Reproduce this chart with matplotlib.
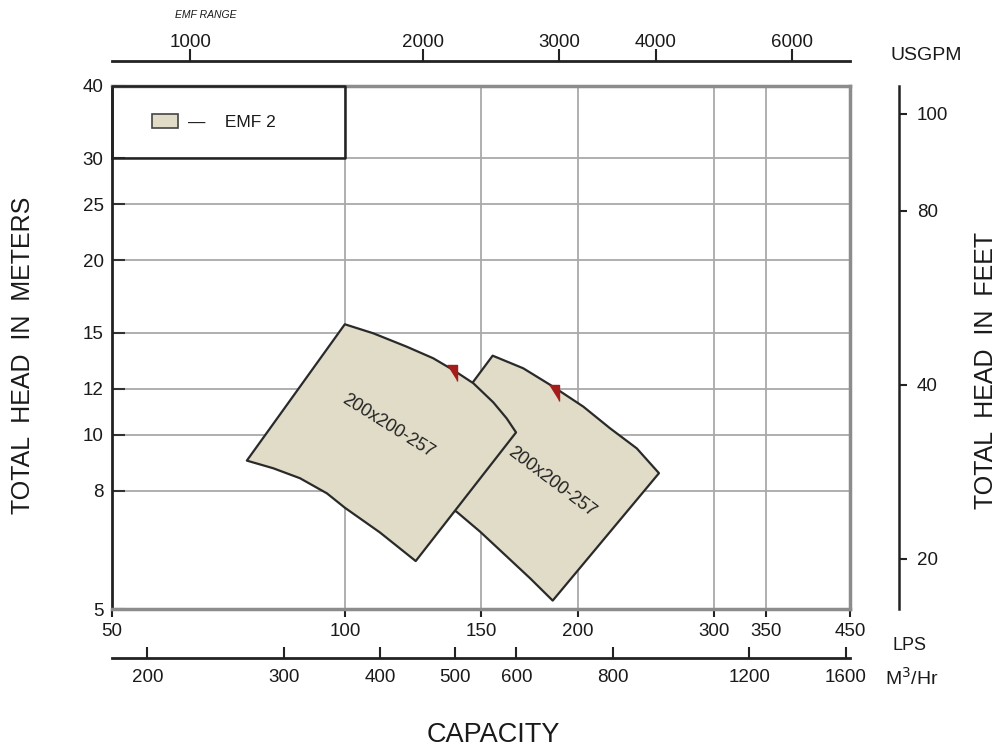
import numpy as np
import matplotlib
matplotlib.use("Agg")
import matplotlib.pyplot as plt
from matplotlib.patches import Patch
from matplotlib.ticker import NullLocator, FixedLocator, FixedFormatter

plt.rcParams['font.family'] = ['Liberation Sans', 'DejaVu Sans']

# axis scales
lps_ticks = [50, 100, 150, 200, 300, 350, 450]
gpm_ticks = [1000, 2000, 3000, 4000, 6000]
m3h_ticks = [200, 300, 400, 500, 600, 800, 1200, 1600]
head_m_ticks = [5, 8, 10, 12, 15, 20, 25, 30, 40]
# feet labels as printed on the chart (positions in meters)
feet_tick_pos_m = [6.1, 12.19, 24.38, 35.8]
feet_tick_labels = ['20', '40', '80', '100']

# pump ranges (LPS, meters)
region1_lps = [100.0, 108.9, 120.2, 130.1, 138.1, 146.6, 155.6, 161.9, 166.5,
               123.5, 111.0, 100.0, 94.8, 87.5, 80.8, 74.7]
region1_m = [15.51, 14.96, 14.19, 13.55, 12.93, 12.27, 11.37, 10.67, 10.09,
             6.05, 6.78, 7.48, 7.92, 8.41, 8.75, 9.02]
region2_lps = [155.3, 170.1, 186.0, 203.4, 220.2, 238.5, 254.8,
               185.7, 173.6, 160.3, 149.6, 139.5, 125.1, 117.9]
region2_m = [13.69, 13.02, 12.10, 11.18, 10.26, 9.47, 8.58,
             5.17, 5.65, 6.24, 6.80, 7.36, 7.93, 8.35]
region_names = ['200x200-257', '200x200-257']
label_lps = [113.7, 185.5]
label_m = [10.35, 8.28]
label_rot = [-32, -37]
bep_lps = [137.6, 186.4]
bep_m = [12.78, 11.8]

legend_box_lps = [50, 100]
legend_box_m = [30, 40]

fill_col = '#e1dcc8'
edge_col = '#2a2a2a'
txt_col = '#1a1a1a'
grid_col = '#a9a9a9'

fig = plt.figure(figsize=(10, 7.51), dpi=100)
ax = fig.add_axes([0.112, 142 / 751, 0.738, 523 / 751])
ax.set_xscale('log')
ax.set_yscale('log')
ax.set_xlim(50, 450)
ax.set_ylim(5, 40)

ax.xaxis.set_major_locator(FixedLocator(lps_ticks))
ax.xaxis.set_major_formatter(FixedFormatter([str(t) for t in lps_ticks]))
ax.yaxis.set_major_locator(FixedLocator(head_m_ticks))
ax.yaxis.set_major_formatter(FixedFormatter([str(t) for t in head_m_ticks]))
ax.xaxis.set_minor_locator(NullLocator())
ax.yaxis.set_minor_locator(NullLocator())
ax.grid(True, which='major', color=grid_col, lw=1.3)
ax.set_axisbelow(True)

ax.tick_params(axis='x', direction='out', length=6, width=1.5, color='#222',
               pad=4, labelsize=13.5, labelcolor=txt_col)
ax.tick_params(axis='y', direction='in', length=9, width=1.5, color='#333',
               pad=6, labelsize=13.5, labelcolor=txt_col, right=False)

ax.spines['left'].set_color('#222')
ax.spines['left'].set_linewidth(2)
for s in ['top', 'right', 'bottom']:
    ax.spines[s].set_color('#8c8c8c')
    ax.spines[s].set_linewidth(2.5)

# pump regions
ax.fill(region2_lps, region2_m, facecolor=fill_col, edgecolor=edge_col, lw=1.6,
        joinstyle='round', zorder=3)
ax.fill(region1_lps, region1_m, facecolor=fill_col, edgecolor=edge_col, lw=1.6,
        joinstyle='round', zorder=4)
for i in range(2):
    ax.text(label_lps[i], label_m[i], region_names[i], rotation=label_rot[i],
            ha='center', va='center', rotation_mode='anchor', fontsize=13,
            color='#222', zorder=6)
tri = [(-0.7, 1), (0.7, 1), (0.7, -1)]
ax.plot(bep_lps, bep_m, ls='none', marker=tri, markersize=11,
        color='#a51c1c', mec='#a51c1c', zorder=7)

# legend box
ax.plot([legend_box_lps[0], legend_box_lps[1], legend_box_lps[1], legend_box_lps[0], legend_box_lps[0]],
        [legend_box_m[0], legend_box_m[0], legend_box_m[1], legend_box_m[1], legend_box_m[0]],
        color='#222', lw=1.8, clip_on=False, zorder=5)
ax.legend([Patch(facecolor=fill_col, edgecolor='#444', lw=1.2)], ['\u2014    EMF 2'],
          loc='center left', bbox_to_anchor=(40 / 738, 487 / 523), frameon=False,
          borderpad=0, borderaxespad=0, handlelength=1.5, handleheight=0.92,
          handletextpad=0.58, fontsize=12.5, labelcolor=txt_col)

# top USGPM axis
top = ax.secondary_xaxis(1 + 25 / 523, functions=(lambda q: q / 0.0630902, lambda g: g * 0.0630902))
top.xaxis.set_major_locator(FixedLocator(gpm_ticks))
top.xaxis.set_major_formatter(FixedFormatter([str(t) for t in gpm_ticks]))
top.xaxis.set_minor_locator(NullLocator())
top.tick_params(direction='out', length=8.5, width=1.5, color='#222', pad=-1,
                labelsize=13.5, labelcolor=txt_col)
top.spines['top'].set_color('#222')
top.spines['top'].set_linewidth(2)

# bottom M3/Hr axis
bot = ax.secondary_xaxis(-49 / 523, functions=(lambda q: q * 3.6, lambda m: m / 3.6))
bot.xaxis.set_major_locator(FixedLocator(m3h_ticks))
bot.xaxis.set_major_formatter(FixedFormatter([str(t) for t in m3h_ticks]))
bot.xaxis.set_minor_locator(NullLocator())
bot.tick_params(direction='in', length=8, width=1.5, color='#222', pad=8,
                labelsize=13.5, labelcolor=txt_col)
bot.spines['bottom'].set_color('#222')
bot.spines['bottom'].set_linewidth(2)

# right feet axis
axr = ax.twinx()
axr.set_yscale('log')
axr.set_ylim(5, 40)
axr.yaxis.set_major_locator(FixedLocator(feet_tick_pos_m))
axr.yaxis.set_major_formatter(FixedFormatter(feet_tick_labels))
axr.yaxis.set_minor_locator(NullLocator())
for s in ['top', 'left', 'bottom']:
    axr.spines[s].set_visible(False)
axr.spines['right'].set_position(('outward', 35))
axr.spines['right'].set_color('#222')
axr.spines['right'].set_linewidth(1.8)
axr.tick_params(axis='y', direction='out', length=6, width=1.5, color='#222',
                pad=7, labelsize=13.5, labelcolor=txt_col)

# texts
fig.text(0.175, 1 - 15 / 751, 'EMF RANGE', fontsize=7.5, style='italic',
         color=txt_col, va='center')
fig.text(0.890, 1 - 55 / 751, 'USGPM', fontsize=14, color=txt_col, va='center')
fig.text(0.893, 1 - 645 / 751, 'LPS', fontsize=13, color=txt_col, va='center')
fig.text(0.885, 1 - 678 / 751, 'M$^3$/Hr', fontsize=14, color=txt_col, va='center')
fig.text(0.493, 1 - 735 / 751, 'CAPACITY', fontsize=19.5, color=txt_col, ha='center', va='center')
fig.text(0.0235, 1 - 355 / 751, 'TOTAL  HEAD  IN  METERS', fontsize=18, rotation=90,
         color=txt_col, ha='center', va='center')
fig.text(0.986, 1 - 370 / 751, 'TOTAL  HEAD  IN  FEET', fontsize=18, rotation=90,
         color=txt_col, ha='center', va='center')

fig.savefig('out.png', dpi=100)
